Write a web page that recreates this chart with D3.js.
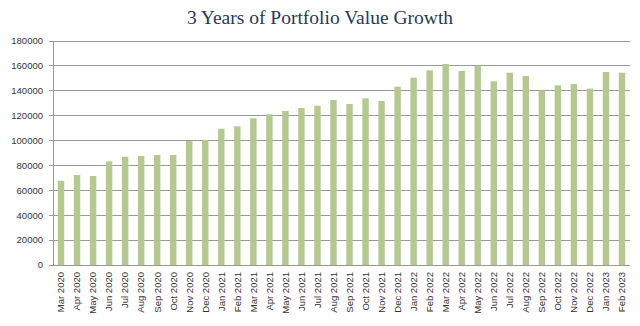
<!DOCTYPE html>
<html>
<head>
<meta charset="utf-8">
<script src="https://cdn.jsdelivr.net/npm/d3@7"></script>
<style>
  body { margin: 0; background: #fff; }
</style>
</head>
<body>
<svg id="chart" width="640" height="326"></svg>
<script>
// monthly portfolio values, Mar 2020 .. Feb 2023
var months = [
  "Mar 2020", "Apr 2020", "May 2020", "Jun 2020", "Jul 2020", "Aug 2020",
  "Sep 2020", "Oct 2020", "Nov 2020", "Dec 2020", "Jan 2021", "Feb 2021",
  "Mar 2021", "Apr 2021", "May 2021", "Jun 2021", "Jul 2021", "Aug 2021",
  "Sep 2021", "Oct 2021", "Nov 2021", "Dec 2021", "Jan 2022", "Feb 2022",
  "Mar 2022", "Apr 2022", "May 2022", "Jun 2022", "Jul 2022", "Aug 2022",
  "Sep 2022", "Oct 2022", "Nov 2022", "Dec 2022", "Jan 2023", "Feb 2023"
];
var values = [
  67700, 72300, 71500, 83300, 87000, 87600,
  88400, 88400, 99600, 100500, 109500, 111400,
  117900, 121100, 123800, 126200, 128000, 132600,
  129400, 133900, 131800, 143300, 150500, 156400,
  161500, 155900, 160200, 147600, 154500, 151900,
  140300, 144400, 145400, 141700, 155100, 154500
];
var yTicks = [0, 20000, 40000, 60000, 80000, 100000, 120000, 140000, 160000, 180000];

var data = months.map((m, i) => ({ month: m, value: values[i] }));

var svg = d3.select("#chart"),
  margin = { top: 41, right: 10, bottom: 61, left: 53 },
  width = 640 - margin.left - margin.right,
  height = 326 - margin.top - margin.bottom;

var g = svg.append("g").attr("transform", `translate(${margin.left},${margin.top})`);

var x = d3.scaleBand().domain(months).range([0, width]).paddingInner(0.6).paddingOuter(0.3);
var y = d3.scaleLinear().domain([0, 180000]).range([height, 0]);

// gridlines
g.selectAll(".grid")
  .data(yTicks)
  .enter()
  .append("line")
  .attr("x1", -4)
  .attr("x2", width)
  .attr("y1", (d) => y(d))
  .attr("y2", (d) => y(d))
  .attr("stroke", "#999")
  .attr("stroke-width", 1)
  .attr("shape-rendering", "crispEdges");

// y axis line
g.append("line")
  .attr("x1", 0).attr("x2", 0)
  .attr("y1", 0).attr("y2", height)
  .attr("stroke", "#999")
  .attr("shape-rendering", "crispEdges");

// bars
g.selectAll(".bar")
  .data(data)
  .enter()
  .append("rect")
  .attr("class", "bar")
  .attr("x", (d) => x(d.month))
  .attr("width", x.bandwidth())
  .attr("y", (d) => y(d.value))
  .attr("height", (d) => height - y(d.value))
  .attr("fill", "#b3c98f");

// y tick labels
g.selectAll(".ylab")
  .data(yTicks)
  .enter()
  .append("text")
  .attr("x", -10)
  .attr("y", (d) => y(d))
  .attr("dy", "0.35em")
  .attr("text-anchor", "end")
  .style("font-family", "'Liberation Sans', Arial, sans-serif")
  .style("font-size", "9.5px")
  .style("fill", "#333")
  .text((d) => d);

// x tick labels, rotated
g.selectAll(".xlab")
  .data(months)
  .enter()
  .append("text")
  .attr("transform", (d) => `translate(${x(d) + x.bandwidth() / 2},${height + 7}) rotate(-90)`)
  .attr("dy", "0.35em")
  .attr("text-anchor", "end")
  .style("font-family", "'Liberation Sans', Arial, sans-serif")
  .style("font-size", "9.5px")
  .style("fill", "#333")
  .text((d) => d);

// title
svg.append("text")
  .attr("x", 320)
  .attr("y", 24)
  .attr("text-anchor", "middle")
  .style("font-family", "'Liberation Serif', 'DejaVu Serif', serif")
  .style("font-size", "19.5px")
  .style("fill", "#1f3864")
  .text("3 Years of Portfolio Value Growth");
</script>
</body>
</html>
